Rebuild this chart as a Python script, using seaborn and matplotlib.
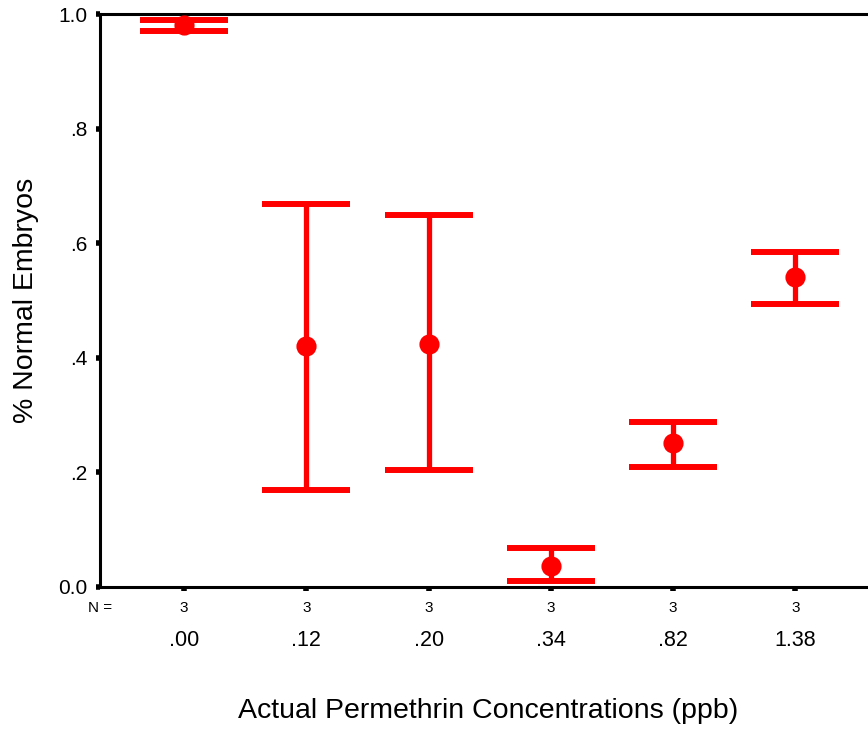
import matplotlib
matplotlib.use("Agg")
import matplotlib.pyplot as plt
import matplotlib.transforms as mtransforms
import seaborn as sns
import pandas as pd

# values
concentrations = [".00", ".12", ".20", ".34", ".82", "1.38"]
n_counts = [3, 3, 3, 3, 3, 3]
mean_normal = [0.980, 0.421, 0.424, 0.037, 0.251, 0.541]
lower_bound = [0.970, 0.169, 0.204, 0.010, 0.209, 0.494]
upper_bound = [0.990, 0.668, 0.649, 0.068, 0.288, 0.585]
y_ticks = [0.0, 0.2, 0.4, 0.6, 0.8, 1.0]
y_tick_labels = ["0.0", ".2", ".4", ".6", ".8", "1.0"]

RED = "#ff0000"

sns.set_theme(style="white")
plt.rcParams["font.family"] = ["Liberation Sans", "DejaVu Sans"]
plt.rcParams["text.color"] = "black"
plt.rcParams["axes.labelcolor"] = "black"
plt.rcParams["xtick.color"] = "black"
plt.rcParams["ytick.color"] = "black"

df = pd.DataFrame({"conc": concentrations, "mean": mean_normal,
                   "lo": lower_bound, "hi": upper_bound})

fig = plt.figure(figsize=(8.68, 7.29), dpi=100)
ax = fig.add_axes([100 / 868, 142 / 729, 768 / 868, 573 / 729])

# error bars (mean with interval)
xpos = range(len(df))
ax.errorbar(xpos, df["mean"], yerr=[df["mean"] - df["lo"], df["hi"] - df["mean"]],
            fmt="none", ecolor=RED, elinewidth=3.8, capsize=31.5, capthick=4.3,
            zorder=2)
# mean markers
sns.pointplot(data=df, x="conc", y="mean", order=concentrations, color=RED,
              linestyle="none", marker="o", markersize=12.5, errorbar=None,
              ax=ax, zorder=3)

ax.set_xlim(-0.687, 5.593)
ax.set_ylim(0, 1.0)
ax.set_yticks(y_ticks)
ax.set_yticklabels(y_tick_labels, fontsize=15)
ax.set_xticks(list(xpos))
ax.set_xticklabels(concentrations, fontsize=15.5)

for side in ["left", "bottom", "top"]:
    ax.spines[side].set_visible(True)
    ax.spines[side].set_linewidth(2.2)
    ax.spines[side].set_color("black")
ax.spines["right"].set_visible(False)

ax.tick_params(axis="y", direction="out", length=3, width=4, color="black",
               pad=6, left=True, labelcolor="black")
ax.tick_params(axis="x", direction="out", length=3, width=4, color="black",
               pad=28, bottom=True, labelcolor="black")

# N = row under the axis
trans = mtransforms.blended_transform_factory(ax.transData, ax.transAxes)
for i, n in enumerate(n_counts):
    ax.text(i, -0.036, str(n), transform=trans, ha="center", va="center",
            fontsize=11)
ax.text(-0.687, -0.036, "N =", transform=trans, ha="center", va="center",
        fontsize=11)

ax.set_xlabel("Actual Permethrin Concentrations (ppb)", fontsize=20.5)
ax.xaxis.set_label_coords(0.506, -0.216, transform=ax.transAxes)
ax.xaxis.label.set_va("center")
ax.set_ylabel("% Normal Embryos", fontsize=20.5, labelpad=14)

fig.savefig("out.png", dpi=100)
